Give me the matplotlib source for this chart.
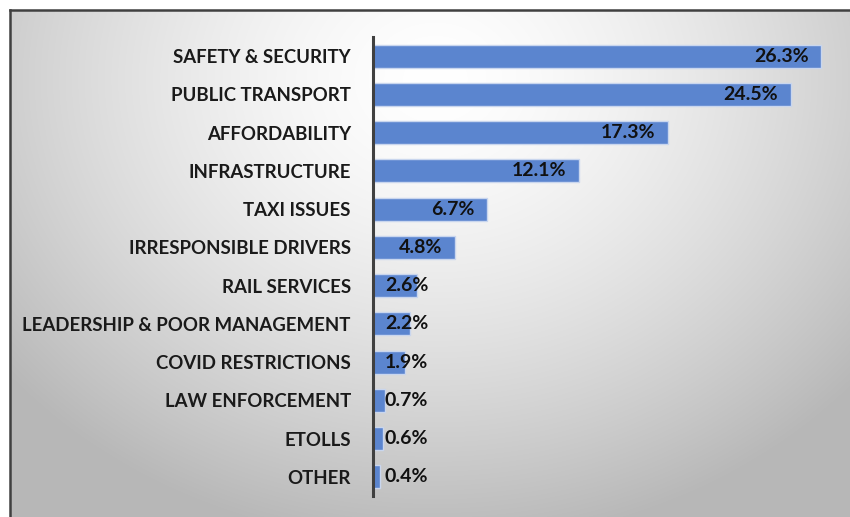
import matplotlib.pyplot as plt
import numpy as np

categories = ["SAFETY & SECURITY", "PUBLIC TRANSPORT", "AFFORDABILITY", "INFRASTRUCTURE",
              "TAXI ISSUES", "IRRESPONSIBLE DRIVERS", "RAIL SERVICES",
              "LEADERSHIP & POOR MANAGEMENT", "COVID RESTRICTIONS", "LAW ENFORCEMENT",
              "ETOLLS", "OTHER"]
values = [26.3, 24.5, 17.3, 12.1, 6.7, 4.8, 2.6, 2.2, 1.9, 0.7, 0.6, 0.4]

W, H = 850, 517
fig = plt.figure(figsize=(W / 100, H / 100), dpi=100)

# background panel with a soft radial gradient
bg = fig.add_axes([0, 0, 1, 1])
bg.set_xlim(0, W)
bg.set_ylim(H, 0)
bg.axis("off")
yy, xx = np.mgrid[0:H, 0:W]
r = np.hypot((xx - 430) / 1.0, (yy - 70) / 0.85)
shade = np.clip(1.0 - 0.28 * (r / 560) ** 1.5, 0.72, 1.0)
img = np.dstack([shade, shade, shade])
bg.imshow(img, extent=(10, W, H, 10), aspect="auto", zorder=0)
bg.plot([10, W], [10, 10], color="#404040", lw=1.8, zorder=2)
bg.plot([10, 10], [10, H], color="#404040", lw=1.8, zorder=2)

ax = fig.add_axes([373 / W, 1 - 496 / H, 467 / W, 459 / H])
ax.patch.set_alpha(0)
y = np.arange(len(categories))
ax.barh(y, values, height=0.6, color="#5b85cf", edgecolor="#c9d6ee", linewidth=1.0)
ax.set_ylim(len(categories) - 0.5, -0.5)
ax.set_xlim(0, 27.4)

ax.set_yticks(y)
ax.set_yticklabels(categories, fontsize=13.4, fontweight="bold", family="Lato", color="#1a1a1a")
ax.tick_params(axis="y", length=0, pad=16)
ax.set_xticks([])
for s in ["top", "right", "bottom"]:
    ax.spines[s].set_visible(False)
ax.spines["left"].set_color("#404040")
ax.spines["left"].set_linewidth(2.2)

for yi, v in zip(y, values):
    if v > 3:
        ax.text(v - 0.75, yi, f"{v:.1f}%", ha="right", va="center", fontsize=14,
                fontweight="bold", family="Lato", color="#111111")
    else:
        ax.text(0.7, yi, f"{v:.1f}%", ha="left", va="center", fontsize=14,
                fontweight="bold", family="Lato", color="#111111")

fig.savefig("out.png", dpi=100)
